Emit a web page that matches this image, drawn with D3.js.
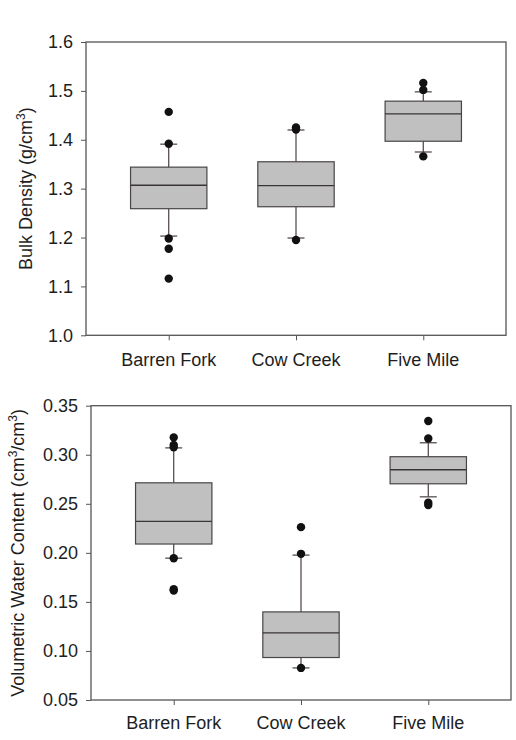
<!DOCTYPE html>
<html>
<head>
<meta charset="utf-8">
<script src="https://cdn.jsdelivr.net/npm/d3@7"></script>
<style>
  html, body { margin: 0; padding: 0; background: #ffffff; }
  svg { display: block; }
  text { font-family: "Liberation Sans", Arial, sans-serif; fill: #1e1e1e; }
</style>
</head>
<body>
<svg id="chart" width="516" height="740"></svg>
<script>
// Sampling sites
const sites = ["Barren Fork", "Cow Creek", "Five Mile"];

// Bulk density (g/cm3) box statistics per site
const bdQ1 = [1.259, 1.263, 1.397];
const bdMedian = [1.307, 1.306, 1.453];
const bdQ3 = [1.344, 1.355, 1.479];
const bdWhiskerLow = [1.203, 1.199, 1.375];
const bdWhiskerHigh = [1.391, 1.420, 1.498];
const bdOutliers = [
  [1.457, 1.392, 1.198, 1.177, 1.116],
  [1.425, 1.421, 1.195],
  [1.516, 1.502, 1.366]
];
const bdTicks = [1.0, 1.1, 1.2, 1.3, 1.4, 1.5, 1.6];

// Volumetric water content (cm3/cm3) box statistics per site
const vwcQ1 = [0.209, 0.0933, 0.2704];
const vwcMedian = [0.232, 0.1184, 0.2847];
const vwcQ3 = [0.2714, 0.1398, 0.298];
const vwcWhiskerLow = [0.1946, 0.0827, 0.2571];
const vwcWhiskerHigh = [0.307, 0.1977, 0.3122];
const vwcOutliers = [
  [0.3177, 0.310, 0.3076, 0.1945, 0.1630, 0.1615],
  [0.2262, 0.199, 0.0827],
  [0.3344, 0.3166, 0.251, 0.2487]
];
const vwcTicks = [0.05, 0.10, 0.15, 0.20, 0.25, 0.30, 0.35];

const svg = d3.select("#chart");

function drawPanel(opts) {
  const { left, right, top, bottom, domain, ticks, fmt,
          q1, med, q3, lo, hi, outliers, titleParts, titleX, labelY } = opts;

  const x = d3.scalePoint().domain(sites).range([left, right]).padding(0.65);
  const y = d3.scaleLinear().domain(domain).range([bottom, top]);
  const boxW = x.step() * 0.6;
  const capW = 17;

  const g = svg.append("g");

  // y axis ticks and labels
  const yAxis = d3.axisLeft(y).tickValues(ticks).tickFormat(d3.format(fmt))
    .tickSize(5).tickSizeOuter(0).tickPadding(8);
  const ya = g.append("g").attr("transform", `translate(${left},0)`).call(yAxis);
  ya.select(".domain").remove();
  ya.selectAll("line").attr("stroke", "#555").attr("stroke-width", 1);
  ya.selectAll("text").style("font-size", "18px").attr("fill", "#1e1e1e");

  // x axis ticks
  const xAxis = d3.axisBottom(x).tickSize(5).tickSizeOuter(0).tickFormat("");
  const xa = g.append("g").attr("transform", `translate(0,${bottom})`).call(xAxis);
  xa.select(".domain").remove();
  xa.selectAll("line").attr("stroke", "#555").attr("stroke-width", 1);

  // category labels
  g.selectAll("text.cat").data(sites).join("text")
    .attr("class", "cat")
    .attr("x", d => x(d))
    .attr("y", labelY)
    .attr("text-anchor", "middle")
    .style("font-size", "18px")
    .text(d => d);

  // frame
  g.append("rect")
    .attr("x", left).attr("y", top)
    .attr("width", right - left).attr("height", bottom - top)
    .attr("fill", "none").attr("stroke", "#555").attr("stroke-width", 1.3);

  // boxes
  const boxes = g.selectAll("g.box").data(sites).join("g").attr("class", "box");
  boxes.each(function(site, i) {
    const b = d3.select(this);
    const cx = x(site);
    // whiskers
    b.append("line").attr("x1", cx).attr("x2", cx)
      .attr("y1", y(q3[i])).attr("y2", y(hi[i]))
      .attr("stroke", "#4a4040").attr("stroke-width", 1.2);
    b.append("line").attr("x1", cx).attr("x2", cx)
      .attr("y1", y(q1[i])).attr("y2", y(lo[i]))
      .attr("stroke", "#4a4040").attr("stroke-width", 1.2);
    // caps
    [hi[i], lo[i]].forEach(v => {
      b.append("line").attr("x1", cx - capW / 2).attr("x2", cx + capW / 2)
        .attr("y1", y(v)).attr("y2", y(v))
        .attr("stroke", "#4a4040").attr("stroke-width", 1.2);
    });
    // box
    b.append("rect")
      .attr("x", cx - boxW / 2).attr("width", boxW)
      .attr("y", y(q3[i])).attr("height", y(q1[i]) - y(q3[i]))
      .attr("fill", "#c0c0c0").attr("stroke", "#4a4545").attr("stroke-width", 1.2);
    // median
    b.append("line").attr("x1", cx - boxW / 2).attr("x2", cx + boxW / 2)
      .attr("y1", y(med[i])).attr("y2", y(med[i]))
      .attr("stroke", "#3a3535").attr("stroke-width", 1.3);
    // outliers
    b.selectAll("circle").data(outliers[i]).join("circle")
      .attr("cx", cx).attr("cy", d => y(d)).attr("r", 4.2)
      .attr("fill", "#111");
  });

  // rotated y-axis title with superscripts
  const t = g.append("text")
    .attr("transform", `translate(${titleX},${(top + bottom) / 2}) rotate(-90)`)
    .attr("text-anchor", "middle")
    .style("font-size", "18px");
  titleParts.forEach(p => {
    t.append("tspan")
      .attr("dy", p.sup ? -7 : (p.after ? 7 : 0))
      .style("font-size", p.sup ? "12px" : "18px")
      .text(p.text);
  });
}

drawPanel({
  left: 86, right: 506, top: 42, bottom: 335.3,
  domain: [1.0, 1.6], ticks: bdTicks, fmt: ".1f",
  q1: bdQ1, med: bdMedian, q3: bdQ3, lo: bdWhiskerLow, hi: bdWhiskerHigh,
  outliers: bdOutliers,
  titleX: 32, labelY: 366,
  titleParts: [
    { text: "Bulk Density (g/cm" },
    { text: "3", sup: true },
    { text: ")", after: true }
  ]
});

drawPanel({
  left: 91, right: 511, top: 405.7, bottom: 700,
  domain: [0.05, 0.35], ticks: vwcTicks, fmt: ".2f",
  q1: vwcQ1, med: vwcMedian, q3: vwcQ3, lo: vwcWhiskerLow, hi: vwcWhiskerHigh,
  outliers: vwcOutliers,
  titleX: 24, labelY: 729,
  titleParts: [
    { text: "Volumetric Water Content (cm" },
    { text: "3", sup: true },
    { text: "/cm", after: true },
    { text: "3", sup: true },
    { text: ")", after: true }
  ]
});
</script>
</body>
</html>
